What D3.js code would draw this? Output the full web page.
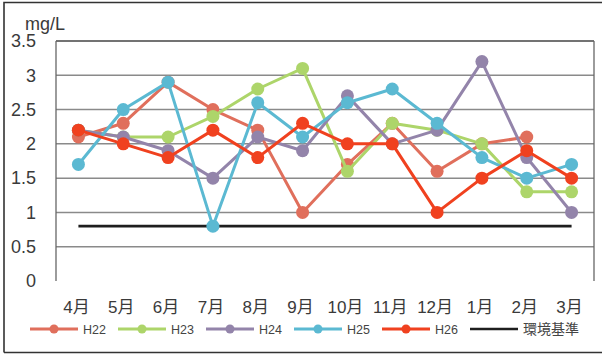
<!DOCTYPE html>
<html>
<head>
<meta charset="utf-8">
<script src="https://cdn.jsdelivr.net/npm/d3@7"></script>
<style>
  html, body { margin: 0; padding: 0; background: #fff; }
  svg { display: block; }
  text { font-family: "Liberation Sans", "Noto Sans CJK JP", sans-serif; }
</style>
</head>
<body>
<svg id="chart" width="602" height="354"></svg>
<script>
// Monthly values (mg/L), April through March of each fiscal year
const months = ["4月","5月","6月","7月","8月","9月","10月","11月","12月","1月","2月","3月"];
const h22 = [2.1, 2.3, 2.9, 2.5, 2.2, 1.0, 1.7, 2.3, 1.6, 2.0, 2.1, null];
const h23 = [2.2, 2.1, 2.1, 2.4, 2.8, 3.1, 1.6, 2.3, 2.2, 2.0, 1.3, 1.3];
const h24 = [2.2, 2.1, 1.9, 1.5, 2.1, 1.9, 2.7, 2.0, 2.2, 3.2, 1.8, 1.0];
const h25 = [1.7, 2.5, 2.9, 0.8, 2.6, 2.1, 2.6, 2.8, 2.3, 1.8, 1.5, 1.7];
const h26 = [2.2, 2.0, 1.8, 2.2, 1.8, 2.3, 2.0, 2.0, 1.0, 1.5, 1.9, 1.5];
const standard = [0.8, 0.8, 0.8, 0.8, 0.8, 0.8, 0.8, 0.8, 0.8, 0.8, 0.8, 0.8];
const yTicks = [0, 0.5, 1, 1.5, 2, 2.5, 3, 3.5];

const seriesNames = ["H22", "H23", "H24", "H25", "H26"];
const seriesValues = [h22, h23, h24, h25, h26];
const seriesColors = ["#e06f5c", "#add56a", "#9384aa", "#5bb9d2", "#f0411f"];
const standardName = "環境基準";

const svg = d3.select("#chart");

// outer frame
svg.append("path")
  .attr("d", "M4,352.5 L4,2.5 L606,2.5 M4,352.5 L606,352.5")
  .attr("fill", "none").attr("stroke", "#333").attr("stroke-width", 1.6);

const x = d3.scaleBand().domain(months).range([56, 594]);
const y = d3.scaleLinear().domain([0, 3.5]).range([281, 41]);
const cx = m => x(m) + x.bandwidth() / 2;

// horizontal gridlines
svg.append("g").selectAll("line")
  .data(yTicks.filter(t => t > 0))
  .join("line")
  .attr("x1", 56).attr("x2", 594)
  .attr("y1", d => y(d)).attr("y2", d => y(d))
  .attr("stroke", d => d === 3.5 ? "#444" : "#8a8a8a")
  .attr("stroke-width", 1.5);

// plot-area side borders
svg.append("g").selectAll("line")
  .data([56, 594])
  .join("line")
  .attr("x1", d => d).attr("x2", d => d)
  .attr("y1", y(3.5)).attr("y2", y(0))
  .attr("stroke", "#666").attr("stroke-width", 1.3);

// y axis labels
const yAxis = d3.axisLeft(y).tickValues(yTicks).tickSize(0).tickPadding(0)
  .tickFormat(d3.format("~g"));
const ya = svg.append("g").attr("transform", "translate(36,0)").call(yAxis);
ya.select(".domain").remove();
ya.selectAll("text").attr("font-size", 18).attr("fill", "#3a3a3a")
  .attr("font-family", "'Liberation Sans', sans-serif");

svg.append("text").attr("x", 25).attr("y", 30)
  .attr("font-size", 18).attr("fill", "#3a3a3a").text("mg/L");

// x axis labels
const xAxis = d3.axisBottom(x).tickSize(0).tickPadding(0);
const xa = svg.append("g").attr("transform", "translate(-2,301)").call(xAxis);
xa.select(".domain").remove();
xa.selectAll("text").attr("font-size", 17).attr("fill", "#3a3a3a")
  .attr("font-family", "'Liberation Sans', 'Noto Sans CJK JP', sans-serif");

// environmental standard line
const line = d3.line()
  .defined(d => d.v !== null)
  .x(d => cx(d.m))
  .y(d => y(d.v));

svg.append("path")
  .datum(months.map((m, i) => ({ m, v: standard[i] })))
  .attr("d", line)
  .attr("fill", "none").attr("stroke", "#1e1e1e").attr("stroke-width", 2.6);

// data series
seriesValues.forEach((vals, si) => {
  const pts = months.map((m, i) => ({ m, v: vals[i] }));
  const g = svg.append("g");
  g.append("path").datum(pts).attr("d", line)
    .attr("fill", "none").attr("stroke", seriesColors[si])
    .attr("stroke-width", 3).attr("stroke-linejoin", "round");
  g.selectAll("circle").data(pts.filter(d => d.v !== null)).join("circle")
    .attr("cx", d => cx(d.m)).attr("cy", d => y(d.v)).attr("r", 6.5)
    .attr("fill", seriesColors[si]);
});

// legend
const legendItems = seriesNames.map((n, i) => ({ name: n, color: seriesColors[i], marker: true }))
  .concat([{ name: standardName, color: "#1e1e1e", marker: false }]);
const lg = svg.append("g").selectAll("g").data(legendItems).join("g")
  .attr("transform", (d, i) => `translate(${30 + i * 88},329)`);
lg.append("line").attr("x1", 0).attr("x2", 48).attr("y1", 0).attr("y2", 0)
  .attr("stroke", d => d.color).attr("stroke-width", d => d.marker ? 3 : 2.4);
lg.filter(d => d.marker).append("circle").attr("cx", 24).attr("cy", 0).attr("r", 4.5)
  .attr("fill", d => d.color);
lg.append("text").attr("x", 53).attr("y", 0).attr("dy", "0.36em")
  .attr("font-size", d => d.marker ? 12.5 : 14).attr("fill", "#444")
  .text(d => d.name);
</script>
</body>
</html>
